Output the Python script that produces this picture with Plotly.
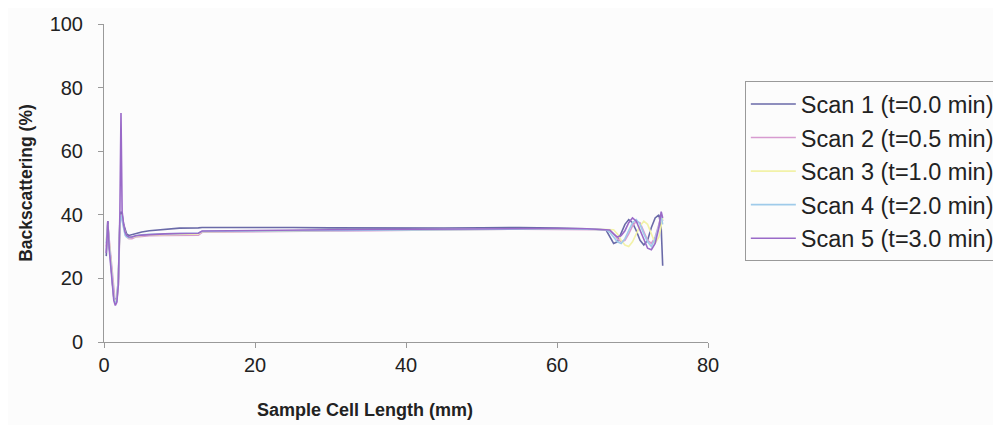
import plotly.graph_objects as go

# Sample cell length (mm), shared by all scans
x_mm = [0.3, 0.5, 0.7, 0.9, 1.1, 1.3, 1.5, 1.7, 1.9, 2.1,
        2.25, 2.4, 2.6, 2.8, 3.0, 3.3, 3.7, 4.2, 5.0, 6.0,
        8.0, 10.0, 12.5, 13.0, 16.0, 20.0, 25.0, 30.0, 35.0, 40.0,
        45.0, 50.0, 55.0, 60.0, 64.0, 66.5, 67.0, 67.5, 68.0, 68.5,
        69.0, 69.5, 70.0, 70.5, 71.0, 71.5, 72.0, 72.5, 73.0, 73.5,
        73.8, 74.0]

scan1 = [27, 38, 30, 26, 19, 14, 13, 14, 20, 38,
         41, 40, 37, 35, 34, 33.5, 33.8, 34.2, 34.6, 35,
         35.5, 35.8, 35.9, 36, 36, 36.1, 36, 35.9, 35.8, 35.7,
         35.8, 35.9, 36, 35.8, 35.6, 35.2, 33, 31, 31.5, 34,
         37, 38.5, 37.5, 35, 32, 30.5, 32, 36, 39, 40,
         36, 24]
scan2 = [30, 36, 32, 27, 20, 15, 12, 13, 18, 36,
         40, 39, 36, 34, 33, 32.5, 32.5, 33, 33.2, 33.4,
         33.5, 33.6, 33.6, 34.5, 34.6, 34.7, 34.8, 34.9, 35, 35.2,
         35.3, 35.4, 35.5, 35.5, 35.4, 35.3, 35, 34, 32.5, 31.5,
         32, 34, 36.5, 38, 37.5, 35, 32, 31, 33, 37,
         40, 38]
scan3 = [32, 37, 31, 26, 19, 14, 12.5, 13.5, 19, 37,
         40, 39, 36, 34, 33, 32.8, 33, 33.3, 33.5, 33.7,
         33.8, 33.9, 34, 34.7, 34.8, 34.9, 35, 35.1, 35.2, 35.3,
         35.4, 35.5, 35.6, 35.6, 35.5, 35.4, 35.5, 35.3, 34, 32,
         30.5, 30, 31.5, 34, 36.5, 38, 37, 34, 31, 33,
         37, 39]
scan4 = [31, 37, 30, 25, 18, 14, 12, 13, 19, 37,
         40, 38, 35, 33.5, 33, 32.8, 33, 33.4, 33.7, 33.9,
         34, 34.2, 34.3, 34.8, 34.9, 35, 35, 35.1, 35.2, 35.3,
         35.4, 35.5, 35.6, 35.6, 35.5, 35.3, 34.5, 33, 31.5, 31,
         32.5, 35, 37.5, 38.5, 37, 34, 31.5, 30, 32.5, 36.5,
         39.5, 37]
scan5 = [28, 38, 29, 24, 17, 13, 11.5, 12.5, 18, 40,
         72, 41, 37, 34.5, 33.5, 33, 33, 33.4, 33.6, 33.8,
         34, 34.1, 34.2, 34.9, 35, 35.1, 35.2, 35.3, 35.4, 35.5,
         35.5, 35.6, 35.7, 35.7, 35.6, 35.4, 35.2, 34, 33, 33.5,
         35, 37.5, 39, 38, 35, 32, 29.5, 29, 31, 36,
         41, 39]

names = ["Scan 1 (t=0.0 min)", "Scan 2 (t=0.5 min)", "Scan 3 (t=1.0 min)",
         "Scan 4 (t=2.0 min)", "Scan 5 (t=3.0 min)"]
series = [scan1, scan2, scan3, scan4, scan5]
colors = ["#6a6aa8", "#d79bd0", "#f2f2a8", "#9fcbea", "#9a6ac8"]

x_ticks = [0, 20, 40, 60, 80]
y_ticks = [0, 20, 40, 60, 80, 100]

fig = go.Figure()
for name, ys, c in zip(names, series, colors):
    fig.add_trace(go.Scatter(x=x_mm, y=ys, mode="lines", name=name,
                             line=dict(color=c, width=1.6)))

font_family = "Arial, Liberation Sans, sans-serif"
fig.update_layout(
    width=993, height=417,
    margin=dict(l=96, r=293, t=16, b=83, autoexpand=False),
    paper_bgcolor="#fcfcfc", plot_bgcolor="#fcfcfc",
    font=dict(family=font_family, color="#222222"),
    showlegend=True,
    legend=dict(x=1.061, y=0.82, xanchor="left", yanchor="top",
                bgcolor="#fcfcfc", bordercolor="#9a9a9a", borderwidth=1,
                font=dict(size=23.5, color="#222222"), itemwidth=45,
                tracegroupgap=0),
    annotations=[dict(text="<b>Sample Cell Length (mm)</b>", xref="paper", yref="paper",
                      x=0.432, y=-0.214, xanchor="center", yanchor="middle",
                      showarrow=False, font=dict(size=18, color="#222222"))],
)
fig.update_xaxes(range=[0, 80], tickvals=x_ticks, showgrid=False, zeroline=False,
                 showline=True, linecolor="#9a9a9a", linewidth=1,
                 ticks="outside", ticklen=5, tickcolor="#9a9a9a",
                 tickfont=dict(size=20, color="#222222"), automargin=False)
fig.update_yaxes(range=[0, 100], tickvals=y_ticks, showgrid=False, zeroline=False,
                 showline=True, linecolor="#9a9a9a", linewidth=1,
                 ticks="outside", ticklen=5, tickcolor="#9a9a9a", ticklabelstandoff=11,
                 tickfont=dict(size=20, color="#222222"), automargin=False,
                 title=dict(text="<b>Backscattering (%)</b>",
                            font=dict(size=17.5, color="#222222"), standoff=12))

fig.write_html("out.html")
